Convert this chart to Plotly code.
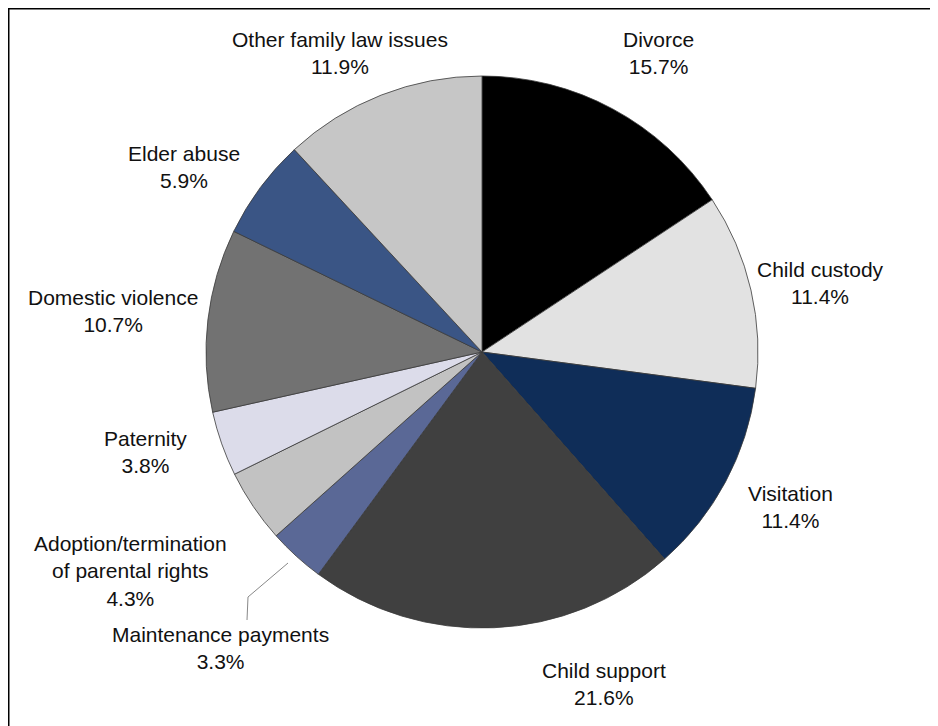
import plotly.graph_objects as go

categories = ["Divorce", "Child custody", "Visitation", "Child support",
              "Maintenance payments", "Adoption/termination of parental rights",
              "Paternity", "Domestic violence", "Elder abuse", "Other family law issues"]
values = [15.7, 11.4, 11.4, 21.6, 3.3, 4.3, 3.8, 10.7, 5.9, 11.9]
label_text = ["Divorce", "Child custody", "Visitation", "Child support",
              "Maintenance payments", "Adoption/termination<br>of parental rights",
              "Paternity", "Domestic violence", "Elder abuse", "Other family law issues"]

colors = ["#000000", "#e2e2e2", "#0f2d58", "#404040", "#5a6896",
          "#c2c2c2", "#dcdcea", "#727272", "#3a5585", "#c6c6c6"]

# the page body has an 8px margin; figure is sized to fill the remaining window
OFF = 8
W, H = 930, 718


def px(X):
    return (X - OFF) / W


def py(Y):
    return 1 - (Y - OFF) / H


# label block centres in page pixels (layout only)
label_pos = [(658, 53), (820, 283), (790, 507), (604, 684), (220, 648),
             (130, 571), (145, 452), (113, 311), (184, 167), (340, 53)]

fig = go.Figure(go.Pie(
    labels=categories, values=values, sort=False, direction="clockwise",
    rotation=0, textinfo="none", hoverinfo="label+percent",
    marker=dict(colors=colors, line=dict(color="#3a3a3a", width=0.8)),
    domain=dict(x=[px(206), px(758)], y=[py(628), py(76)]),
    showlegend=False,
))

annotations = []
for (X, Y), txt, v in zip(label_pos, label_text, values):
    annotations.append(dict(
        x=px(X), y=py(Y), xref="paper", yref="paper",
        text=f"{txt}<br>{v:.1f}%", showarrow=False, align="center",
        xanchor="center", yanchor="middle",
        font=dict(family="Liberation Sans, Arial, sans-serif", size=21, color="#111111"),
    ))

shapes = [
    dict(type="line", xref="paper", yref="paper", x0=0, x1=1, y0=1, y1=1,
         line=dict(color="#000000", width=3)),
    dict(type="line", xref="paper", yref="paper", x0=0, x1=0, y0=0, y1=1,
         line=dict(color="#000000", width=3)),
    dict(type="path", xref="paper", yref="paper",
         path=f"M {px(288)} {py(563)} L {px(248)} {py(597)} L {px(247)} {py(620)}",
         line=dict(color="#888888", width=1)),
]

fig.update_layout(
    width=W, height=H, margin=dict(l=0, r=0, t=0, b=0),
    paper_bgcolor="white", plot_bgcolor="white",
    annotations=annotations, shapes=shapes,
)

fig.write_html("out.html")
